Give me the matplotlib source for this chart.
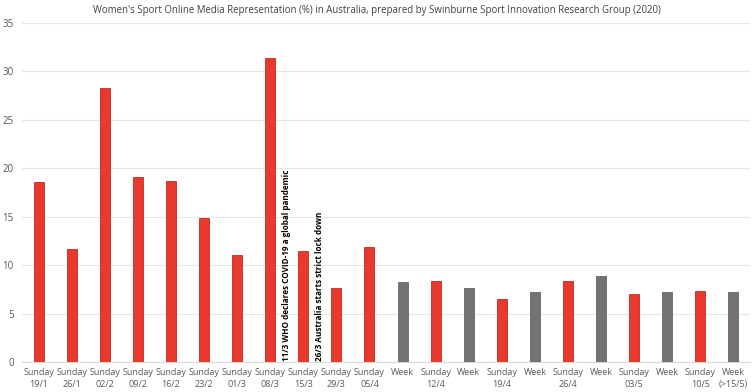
import matplotlib.pyplot as plt
import numpy as np

plt.rcParams['font.family'] = ['Open Sans', 'DejaVu Sans']

labels = ['Sunday\n19/1', 'Sunday\n26/1', 'Sunday\n02/2', 'Sunday\n09/2', 'Sunday\n16/2',
          'Sunday\n23/2', 'Sunday\n01/3', 'Sunday\n08/3', 'Sunday\n15/3', 'Sunday\n29/3',
          'Sunday\n05/4', 'Week', 'Sunday\n12/4', 'Week', 'Sunday\n19/4', 'Week',
          'Sunday\n26/4', 'Week', 'Sunday\n03/5', 'Week', 'Sunday\n10/5', 'Week\n(>15/5)']
values = [18.6, 11.7, 28.3, 19.1, 18.7, 14.9, 11.0, 31.4, 11.5, 7.6, 11.9,
          8.3, 8.4, 7.6, 6.5, 7.25, 8.4, 8.85, 7.05, 7.2, 7.3, 7.2]
is_week = [l.startswith('Week') for l in labels]

events = ['11/3 WHO declares COVID-19 a global pandemic',
          '26/3 Australia starts strict lock down']
event_pos = [7.5, 8.5]

red = '#E8392C'
grey = '#737373'
colors = [grey if w else red for w in is_week]
edges = ['#666666' if w else '#C8281E' for w in is_week]

fig = plt.figure(figsize=(7.54, 3.92), dpi=100)
ax = fig.add_axes([22 / 754, 30 / 392, 728 / 754, 339 / 392])

x = np.arange(len(values))
ax.bar(x, values, width=0.3, color=colors, edgecolor=edges, linewidth=0.6, zorder=3)

# event notes sit between the bars
for pos, txt in zip(event_pos, events):
    ax.text(pos, 0.15, txt, rotation=90, ha='center', va='bottom',
            fontsize=5.9, fontweight='bold', color='black', zorder=4)

ax.set_xlim(-0.5, len(values) - 0.5)
ax.set_ylim(0, 35)
ax.set_yticks(np.arange(0, 36, 5))
ax.set_xticks(x)
ax.set_xticklabels(labels, fontsize=6.5, color='#595959', linespacing=1.5, va='top')
ax.tick_params(axis='y', labelsize=7, colors='#595959', length=0, pad=6)
ax.tick_params(axis='x', length=0, pad=4)
ax.grid(axis='y', color='#E6E6E6', linewidth=0.8, zorder=0)
for s in ['top', 'right', 'left']:
    ax.spines[s].set_visible(False)
ax.spines['bottom'].set_color('#D9D9D9')

fig.text(0.5, 1 - 11 / 392, "Women's Sport Online Media Representation (%) in Australia, "
         "prepared by Swinburne Sport Innovation Research Group (2020)",
         ha='center', va='center', fontsize=6.9, color='#404040')

fig.savefig('out.png', dpi=100)
